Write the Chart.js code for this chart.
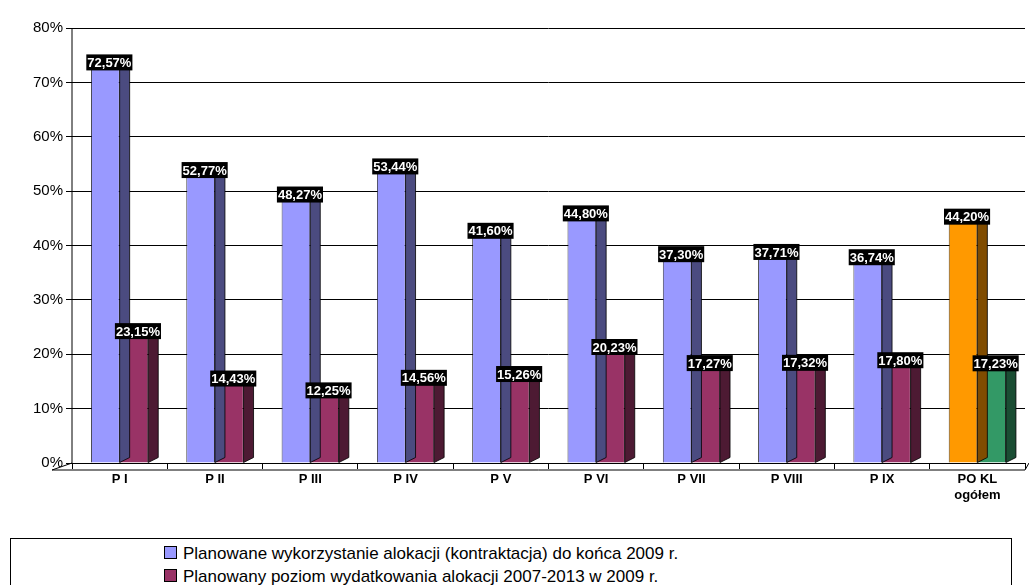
<!DOCTYPE html>
<html><head><meta charset="utf-8">
<script src="https://cdn.jsdelivr.net/npm/chart.js@4"></script>
<style>
body{margin:0;background:#fff;width:1029px;height:585px;overflow:hidden;font-family:"Liberation Sans",Arial,sans-serif}
#wrap{position:absolute;left:0;top:0;width:1029px;height:535px}
#leg{position:absolute;left:10px;top:538px;width:1000px;height:50px;border:1px solid #000;font-size:17px;color:#000}
.it{position:absolute;left:153px;white-space:nowrap}
.sw{display:inline-block;width:11px;height:11px;border:1px solid #000;margin-right:6px;vertical-align:0px}
</style></head><body>
<div id="wrap"><canvas id="c"></canvas></div>
<div id="leg">
<div class="it" style="top:5px"><span class="sw" style="background:#9999FF"></span>Planowane wykorzystanie alokacji (kontraktacja) do końca 2009 r.</div>
<div class="it" style="top:28px"><span class="sw" style="background:#993366"></span>Planowany poziom wydatkowania alokacji 2007-2013 w 2009 r.</div>
</div>
<script>
const categories=["P I","P II","P III","P IV","P V","P VI","P VII","P VIII","P IX",["PO KL","ogółem"]];
const contracting=[72.57,52.77,48.27,53.44,41.60,44.80,37.30,37.71,36.74,44.20];
const spending=[23.15,14.43,12.25,14.56,15.26,20.23,17.27,17.32,17.80,17.23];
const tickLabels=["0%","10%","20%","30%","40%","50%","60%","70%","80%"];
const fmt=v=>v.toFixed(2).replace('.',',')+'%';
const c1=contracting.map((v,i)=>i===9?'#FF9900':'#9999FF');
const s1=contracting.map((v,i)=>i===9?'#804C00':'#4B4B80');
const c2=spending.map((v,i)=>i===9?'#339966':'#993366');
const s2=spending.map((v,i)=>i===9?'#1A4D33':'#4D1A33');
const DX=10,DY=-5;
const threeD={id:'threeD',
beforeDatasetsDraw(ch){const {ctx,chartArea:a}=ch;ctx.save();ctx.strokeStyle='#000';ctx.lineWidth=1;
 ctx.beginPath();ctx.moveTo(a.left-20,a.bottom+7);ctx.lineTo(a.left,a.bottom);ctx.lineTo(a.left,a.top);ctx.stroke();
 ctx.beginPath();ctx.moveTo(a.left-20,a.bottom+7);ctx.lineTo(a.right,a.bottom+7);ctx.lineTo(a.right+4,a.bottom);ctx.stroke();
 ctx.restore();},
afterDatasetsDraw(ch){const ctx=ch.ctx;ctx.save();
 const sides=[s1,s2];
 ch.data.datasets.forEach((d,di)=>{ch.getDatasetMeta(di).data.forEach((b,i)=>{
  const r=b.x+b.width/2,t=b.y,bt=b.base;
  ctx.fillStyle=sides[di][i];ctx.strokeStyle='#000';ctx.lineWidth=0.8;
  ctx.beginPath();ctx.moveTo(r,t);ctx.lineTo(r+DX,t+DY);ctx.lineTo(r+DX,bt+DY);ctx.lineTo(r,bt);ctx.closePath();ctx.fill();ctx.stroke();
  ctx.fillStyle=d.backgroundColor[i];
  const l=b.x-b.width/2;
  ctx.beginPath();ctx.moveTo(l,t);ctx.lineTo(l+DX,t+DY);ctx.lineTo(r+DX,t+DY);ctx.lineTo(r,t);ctx.closePath();ctx.fill();ctx.stroke();
 });});
 ctx.font='bold 13px "Liberation Sans",Arial';ctx.textAlign='center';ctx.textBaseline='middle';
 ch.data.datasets.forEach((d,di)=>{ch.getDatasetMeta(di).data.forEach((b,i)=>{
  const s=fmt(d.data[i]);const w=ctx.measureText(s).width+2;const y=b.y-6;
  ctx.fillStyle='#000';ctx.fillRect(b.x+4-w/2,y-8,w,16);ctx.fillStyle='#fff';ctx.fillText(s,b.x+4,y+1);
 });});
 ctx.restore();}};
new Chart(document.getElementById('c'),{type:'bar',
data:{labels:categories,datasets:[
{data:contracting,backgroundColor:c1,borderColor:'#000',borderWidth:0.8},
{data:spending,backgroundColor:c2,borderColor:'#000',borderWidth:0.8}]},
options:{responsive:true,maintainAspectRatio:false,animation:false,
layout:{padding:{left:0,right:4,top:28,bottom:0}},
categoryPercentage:0.6,barPercentage:1,
plugins:{legend:{display:false},tooltip:{enabled:false}},
scales:{x:{afterFit(s){s.height=72},grid:{display:true,drawOnChartArea:false,color:'#000',tickLength:6,offset:true},border:{display:false},
 ticks:{color:'#000',font:{size:13,weight:'bold',family:'"Liberation Sans",Arial'}}},
 y:{min:0,max:80,afterFit(s){s.width=72},grid:{color:'#000',lineWidth:1,tickLength:6},border:{display:false},
 ticks:{stepSize:10,color:'#000',font:{size:15,family:'"Liberation Sans",Arial'},callback:(v,i)=>tickLabels[i]}}}},
plugins:[threeD]});
</script></body></html>
